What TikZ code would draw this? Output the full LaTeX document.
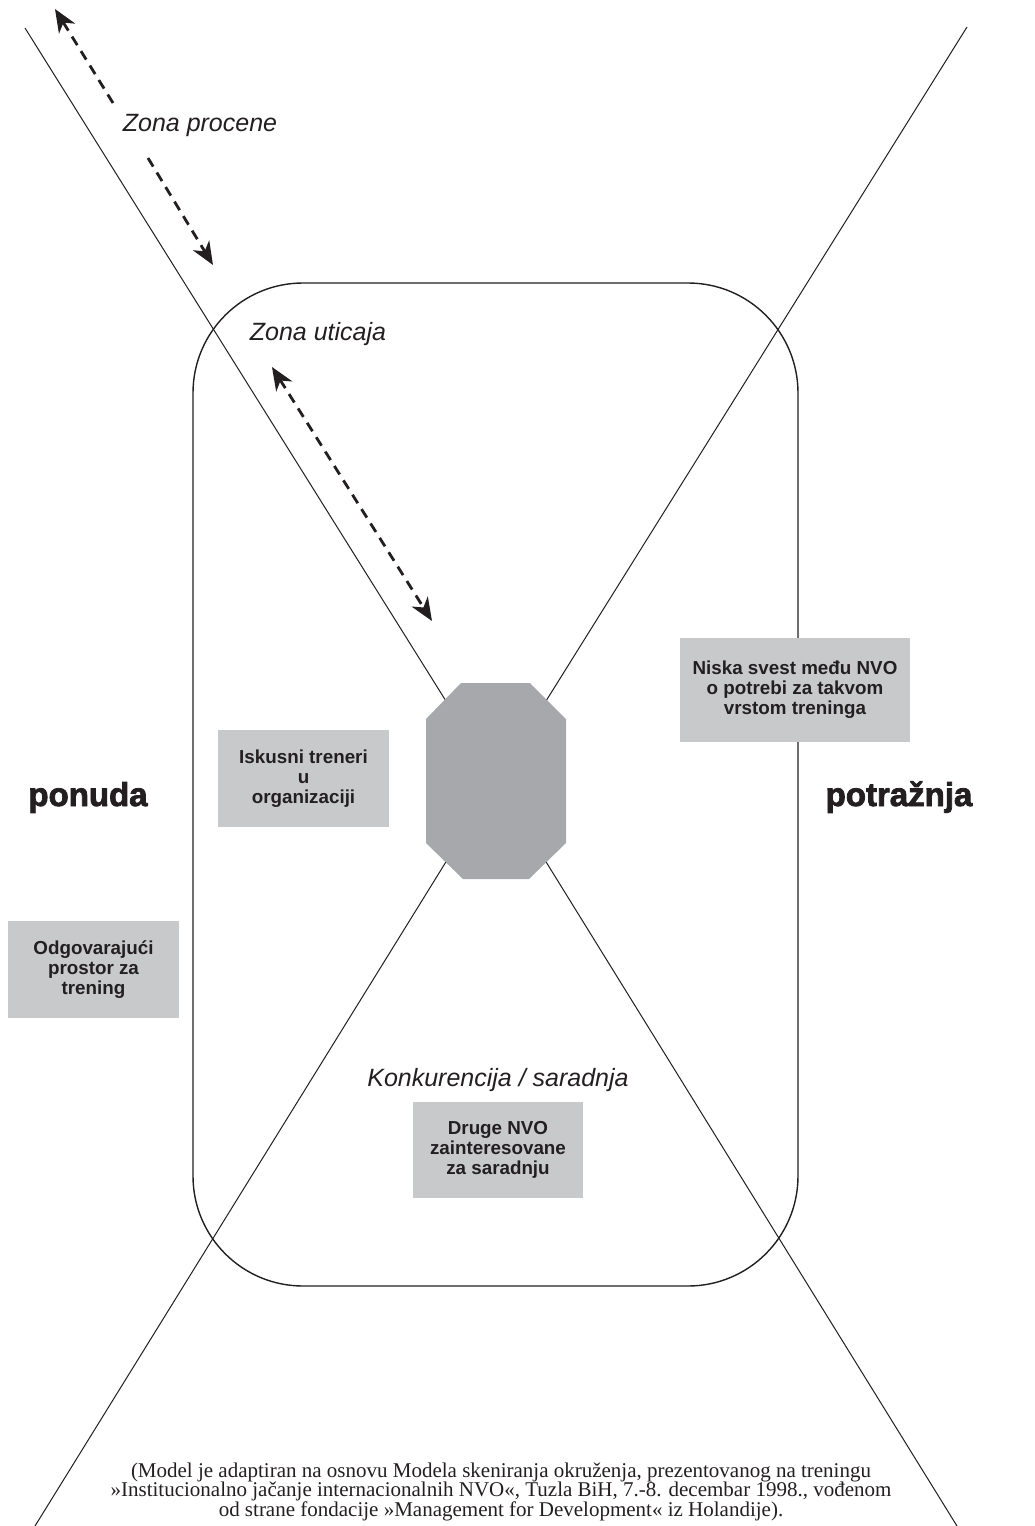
\documentclass[tikz,border=0pt]{standalone}
\usepackage{fontspec}
\setmainfont{Liberation Serif}
\newfontfamily\arial{Liberation Sans}
\newfontfamily\arialheavy[FakeBold=2.4]{Liberation Sans Bold}
\usetikzlibrary{arrows.meta}
\definecolor{octgray}{RGB}{167,168,171}
\definecolor{boxgray}{RGB}{200,201,203}
\definecolor{ink}{RGB}{35,31,32}
\tikzset{
  tipx/.tip={Stealth[length=23pt,width=19pt,inset=7pt]},
  axisline/.style={line width=1pt, draw=ink},
  zone/.style={line width=1.4pt, draw=ink},
  infobox/.style={fill=boxgray, inner sep=0pt, align=center, text=ink,
    font=\arial\bfseries\fontsize{18.8}{20}\selectfont},
  zonelabel/.style={font=\arial\itshape\fontsize{25}{30}\selectfont, text=ink, anchor=base},
  sidelabel/.style={font=\arialheavy\fontsize{33}{40}\selectfont, text=ink, anchor=base},
  dasharrow/.style={line width=2.8pt, draw=ink, dash pattern=on 10pt off 7pt},
  notetext/.style={font=\fontsize{21}{19.2}\selectfont, align=center, inner sep=0pt, text=ink},
}
\begin{document}
\begin{tikzpicture}[x=1pt,y=-1pt]
\useasboundingbox (0,0) rectangle (1035,1526);
% axes
\coordinate (c) at (496,781);
\coordinate (tl) at (25,28);
\coordinate (tr) at (967,27);
\coordinate (bl) at (35,1526);
\coordinate (br) at (957,1526);
\draw[axisline] (tl) -- (c);
\draw[axisline] (tr) -- (c);
\draw[axisline] (bl) -- (c);
\draw[axisline] (br) -- (c);
% centre octagon
\fill[octgray] (461,683) -- (530,683) -- (566,719) -- (566,843) -- (529,879)
  -- (463,879) -- (426,843) -- (426,719) -- cycle;
% zone of influence
\draw[zone, rounded corners=110pt] (193,283) rectangle (798,1286);
% boxes
\node[infobox, minimum width=230pt, minimum height=104pt] (niska) at (795,690)
  {Niska svest među NVO\\o potrebi za takvom\\vrstom treninga};
\node[infobox, minimum width=171pt, minimum height=97pt] (iskusni) at (303.5,778.5)
  {Iskusni treneri\\u\\organizaciji};
\node[infobox, minimum width=171pt, minimum height=97pt] (odgov) at (93.5,969.5)
  {Odgovarajući\\prostor za\\trening};
\node[infobox, minimum width=170pt, minimum height=96pt] (druge) at (498,1150)
  {Druge NVO\\zainteresovane\\za saradnju};
% labels
\node[zonelabel] (zp) at (200,131) {Zona procene};
\node[zonelabel] (zu) at (318,340) {Zona uticaja};
\node[zonelabel] (kon) at (498,1086) {Konkurencija / saradnja};
\node[sidelabel] (pon) at (88,806) {ponuda};
\node[sidelabel] (pot) at (899,806) {potražnja};
% dashed arrows
\coordinate (p1a) at (113,103);
\coordinate (p1b) at (55,9);
\coordinate (p2a) at (148,158);
\coordinate (p2b) at (213,265);
\coordinate (u1) at (272,367);
\coordinate (u2) at (432,621);
\draw[dasharrow, -tipx] (p1a) -- (p1b);
\draw[dasharrow, -tipx] (p2a) -- (p2b);
\draw[dasharrow, tipx-tipx] (u1) -- (u2);
% note
\node[notetext] (note) at (501,1492)
  {(Model je adaptiran na osnovu Modela skeniranja okruženja, prezentovanog na treningu\\
   »Institucionalno jačanje internacionalnih NVO«, Tuzla BiH, 7.-8. decembar 1998., vođenom\\
   od strane fondacije »Management for Development« iz Holandije).};
\end{tikzpicture}
\end{document}
